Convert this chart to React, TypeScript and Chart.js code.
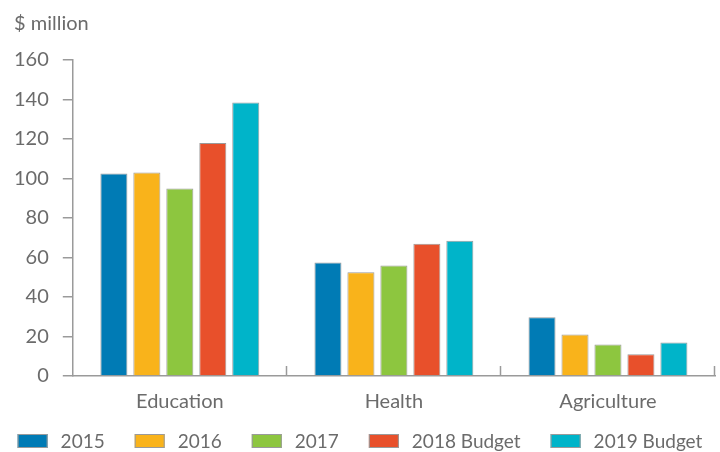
import React, { useEffect, useRef } from "react";
import { Chart, registerables } from "chart.js";

Chart.register(...registerables);

const categories = ["Education", "Health", "Agriculture"];
const seriesNames = ["2015", "2016", "2017", "2018 Budget", "2019 Budget"];
const values2015 = [102.5, 57.5, 29.8];
const values2016 = [103, 52.5, 21];
const values2017 = [95, 56, 16];
const values2018 = [118, 67, 11];
const values2019 = [138.5, 68.5, 17];
const yTicks = [0, 20, 40, 60, 80, 100, 120, 140, 160];
const colors = ["#007BB5", "#F9B31B", "#8DC63F", "#E8502B", "#00B4C9"];

const FONT = "Lato, 'Open Sans', sans-serif";
const GREY = "#6b6b6b";
const LINE = "#9a9a9a";

const decorations = {
  id: "decorations",
  afterDraw(chart: any) {
    const x = chart.scales.x;
    const y = chart.scales.y;
    const ctx = chart.ctx;
    const n = categories.length;
    ctx.save();
    // upward boundary ticks on the category axis
    ctx.strokeStyle = LINE;
    ctx.lineWidth = 1.5;
    const base = y.getPixelForValue(0);
    for (let i = 1; i <= n; i++) {
      const px = Math.round(x.left + (i * (x.right - x.left)) / n) - 0.5;
      ctx.beginPath();
      ctx.moveTo(px, base);
      ctx.lineTo(px, base - 10);
      ctx.stroke();
    }
    // legend
    const boxW = 30;
    const boxH = 14;
    const textGap = 13;
    const itemGap = 30;
    ctx.font = `19px ${FONT}`;
    const widths = seriesNames.map((s) => boxW + textGap + ctx.measureText(s).width);
    const total = widths.reduce((a, b) => a + b, 0) + itemGap * (widths.length - 1);
    let cx = (chart.width - total) / 2;
    const cy = 441;
    ctx.textBaseline = "middle";
    ctx.textAlign = "left";
    seriesNames.forEach((s, i) => {
      ctx.fillStyle = colors[i];
      ctx.fillRect(cx, cy - boxH / 2, boxW, boxH);
      ctx.strokeStyle = LINE;
      ctx.lineWidth = 1;
      ctx.strokeRect(cx + 0.5, cy - boxH / 2 + 0.5, boxW - 1, boxH - 1);
      ctx.fillStyle = GREY;
      ctx.fillText(s, cx + boxW + textGap, cy + 1);
      cx += widths[i] + itemGap;
    });
    ctx.restore();
  },
};

export default function App() {
  const ref = useRef<HTMLCanvasElement | null>(null);
  useEffect(() => {
    const series = [values2015, values2016, values2017, values2018, values2019];
    const chart = new Chart(ref.current as HTMLCanvasElement, {
      type: "bar",
      data: {
        labels: categories,
        datasets: series.map((d, i) => ({
          label: seriesNames[i],
          data: d,
          backgroundColor: colors[i],
          borderColor: LINE,
          borderWidth: 1,
          barPercentage: 0.82,
          categoryPercentage: 0.77,
        })),
      },
      options: {
        animation: false,
        responsive: false,
        maintainAspectRatio: false,
        layout: { padding: { left: 14, right: 5, top: 0, bottom: 32 } },
        plugins: {
          title: {
            display: true,
            text: "$ million",
            align: "start",
            color: GREY,
            font: { family: FONT, size: 20, weight: "normal" },
            padding: { top: 12, bottom: 24 },
          },
          legend: { display: false },
          tooltip: { enabled: false },
        },
        scales: {
          x: {
            grid: { display: false },
            border: { display: true, color: LINE, width: 1.5 },
            ticks: { color: GREY, font: { family: FONT, size: 20 }, padding: 6 },
          },
          y: {
            min: 0,
            max: 160,
            afterBuildTicks: (s: any) => {
              s.ticks = yTicks.map((v) => ({ value: v }));
            },
            afterFit: (s: any) => {
              s.width -= 14;
            },
            grid: { drawOnChartArea: false, drawTicks: true, tickLength: 10, color: LINE, lineWidth: 1.5 },
            border: { display: true, color: LINE, width: 1.5 },
            ticks: { color: GREY, font: { family: FONT, size: 20 }, padding: 14 },
          },
        },
      },
      plugins: [decorations],
    } as any);
    return () => chart.destroy();
  }, []);
  return (
    <div style={{ position: "fixed", left: 0, top: 0, width: 720, height: 452, background: "#fff" }}>
      <canvas ref={ref} width={720} height={452} />
    </div>
  );
}
